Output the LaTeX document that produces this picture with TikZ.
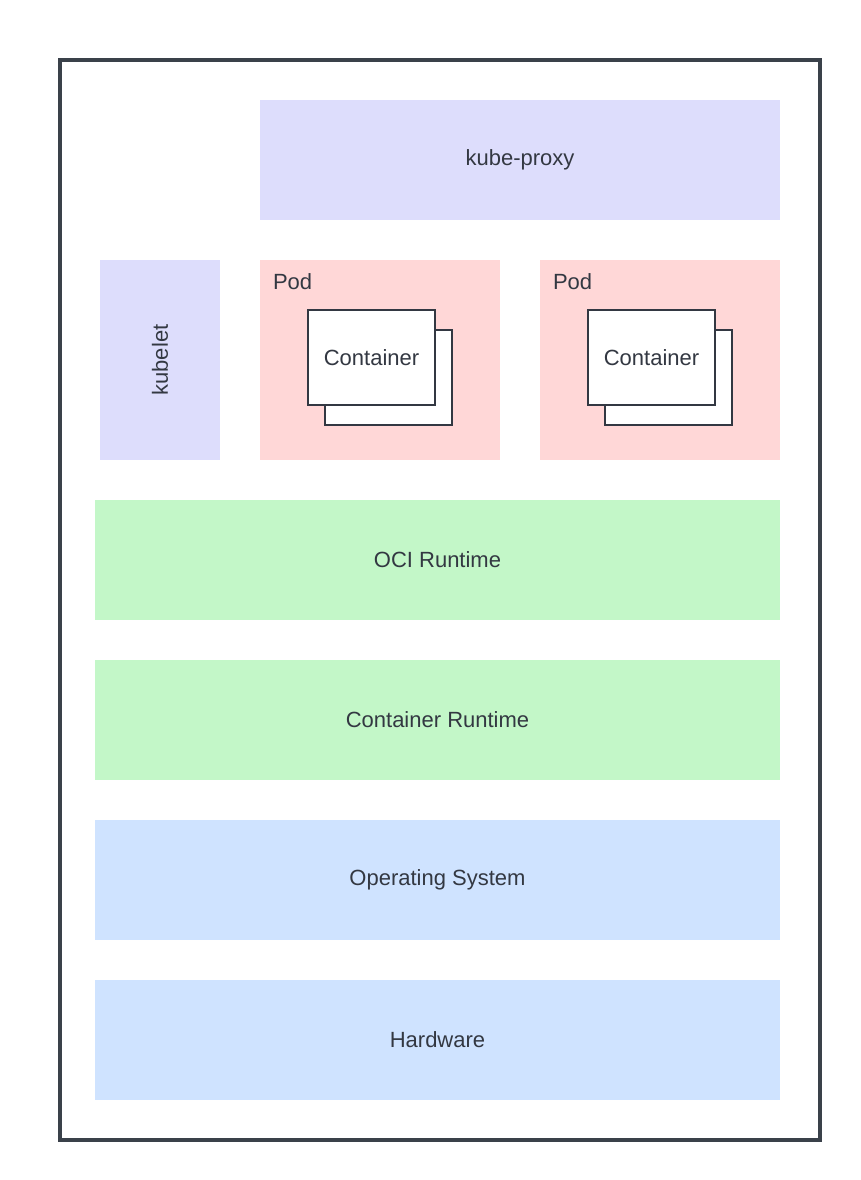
\documentclass[tikz,border=0pt]{standalone}
\usepackage{fontspec}
\setmainfont{Liberation Sans}
\usetikzlibrary{positioning, calc}
\definecolor{framegray}{RGB}{58,65,74}
\definecolor{textgray}{RGB}{51,56,66}
\definecolor{agentlilac}{RGB}{221,221,252}
\definecolor{podpink}{RGB}{255,215,215}
\definecolor{runtimegreen}{RGB}{195,247,200}
\definecolor{systemblue}{RGB}{207,227,255}

\begin{document}
\begin{tikzpicture}[
  x=1pt, y=-1pt,
  node distance=40pt,
  every node/.style={font=\fontsize{22}{26}\selectfont, text=textgray, inner sep=0pt, outer sep=0pt},
  agent/.style={rectangle, fill=agentlilac},
  podbox/.style={rectangle, fill=podpink, minimum width=240pt, minimum height=200pt},
  layer/.style={rectangle, minimum width=685pt, minimum height=120pt},
  ctr/.style={rectangle, draw=textgray, line width=2pt, fill=white, minimum width=127pt, minimum height=95pt},
  frame/.style={draw=framegray, line width=4pt}
]
\useasboundingbox (0,0) rectangle (860,1180);
\draw[frame] (60,60) rectangle (820,1140);

\node[agent, minimum width=120pt, minimum height=200pt] (kubelet) at (160,360) {\rotatebox{90}{kubelet}};
\node[podbox, right=of kubelet] (pod1) {};
\node[podbox, right=of pod1] (pod2) {};
\node[agent, minimum width=520pt, minimum height=120pt, above=of pod1.north west, anchor=south west] (proxy) {kube-proxy};

\node[anchor=north west] (pod1lbl) at ($(pod1.north west)+(13,14)$) {Pod};
\node[anchor=north west] (pod2lbl) at ($(pod2.north west)+(13,14)$) {Pod};

\node[ctr] (c1back) at ($(pod1.center)+(8.5,17.5)$) {};
\node[ctr] (c1) at ($(pod1.center)+(-8.5,-2.5)$) {Container};
\node[ctr] (c2back) at ($(pod2.center)+(8.5,17.5)$) {};
\node[ctr] (c2) at ($(pod2.center)+(-8.5,-2.5)$) {Container};

\node[layer, fill=runtimegreen, below=of pod2.south east, anchor=north east] (oci) {OCI Runtime};
\node[layer, fill=runtimegreen, below=of oci] (cri) {Container Runtime};
\node[layer, fill=systemblue, below=of cri] (os) {Operating System};
\node[layer, fill=systemblue, below=of os] (hw) {Hardware};

\end{tikzpicture}
\end{document}
